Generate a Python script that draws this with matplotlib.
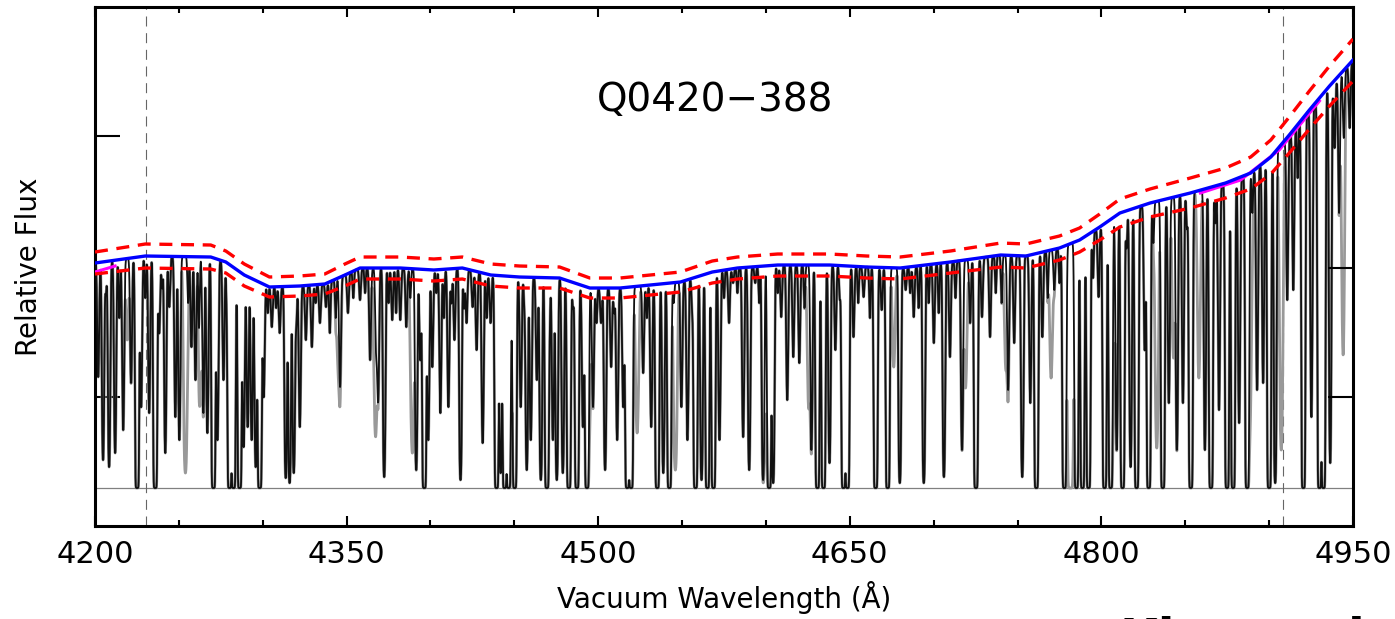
import matplotlib
matplotlib.use("Agg")
import matplotlib.pyplot as plt
import numpy as np

# Fitted continuum (blue) with its +/-5% bounds (red dashed)
CONT_WAVE = [4200, 4230, 4269, 4278, 4289, 4304, 4322, 4337, 4349, 4358,
             4382, 4402, 4419, 4436, 4453, 4477, 4495, 4513, 4531, 4549,
             4568, 4583, 4607, 4638, 4660, 4680, 4710, 4740, 4755, 4775,
             4787, 4799, 4811, 4829, 4853, 4874, 4889, 4901, 4912, 4924,
             4936, 4950]
CONT_FLUX = [2.25, 2.32, 2.31, 2.26, 2.13, 2.01, 2.02, 2.04, 2.13, 2.20,
             2.20, 2.18, 2.20, 2.13, 2.11, 2.10, 2.00, 2.00, 2.03, 2.06,
             2.16, 2.20, 2.23, 2.23, 2.21, 2.20, 2.26, 2.33, 2.32, 2.40,
             2.48, 2.61, 2.75, 2.85, 2.95, 3.05, 3.15, 3.31, 3.53, 3.78,
             4.02, 4.28]
CONT_HI = [2.36, 2.44, 2.43, 2.37, 2.24, 2.11, 2.12, 2.14, 2.24, 2.31,
           2.31, 2.29, 2.31, 2.24, 2.22, 2.21, 2.10, 2.10, 2.13, 2.16,
           2.27, 2.31, 2.34, 2.34, 2.32, 2.31, 2.37, 2.45, 2.44, 2.52,
           2.60, 2.74, 2.89, 2.99, 3.10, 3.20, 3.31, 3.48, 3.71, 3.97,
           4.22, 4.49]
CONT_LO = [2.14, 2.20, 2.19, 2.15, 2.02, 1.91, 1.92, 1.94, 2.02, 2.09,
           2.09, 2.07, 2.09, 2.02, 2.00, 2.00, 1.90, 1.90, 1.93, 1.96,
           2.05, 2.09, 2.12, 2.12, 2.10, 2.09, 2.15, 2.21, 2.20, 2.28,
           2.36, 2.48, 2.61, 2.71, 2.80, 2.90, 2.99, 3.14, 3.35, 3.59,
           3.82, 4.07]

# alternative continuum, only showing where it departs from the blue one
ALT_WAVE_A = [4200, 4206, 4212]
ALT_FLUX_A = [2.16, 2.19, 2.22]
ALT_WAVE_B = [4859, 4883, 4906, 4930]
ALT_FLUX_B = [2.95, 3.08, 3.38, 3.87]

# Lyman-alpha forest absorbers: centre (A) and flux at line bottom
LINE_WAVE = [
    4201.9, 4204.8, 4208.4, 4212.0, 4216.8, 4221.5, 4225.1, 4227.5, 4232.3, 4235.9,
    4238.3, 4241.9, 4244.3, 4247.9, 4250.3, 4257.5, 4259.9, 4264.6, 4267.0, 4270.6,
    4273.0, 4276.6, 4280.2, 4282.6, 4286.2, 4288.6, 4291.0, 4293.4, 4295.8, 4298.2,
    4300.6, 4305.4, 4310.1, 4313.7, 4316.0, 4318.5, 4322.1, 4325.7, 4329.3, 4334.1,
    4337.7, 4346.1, 4350.8, 4358.0, 4364.0, 4367.6, 4368.8, 4372.4, 4377.2, 4382.0,
    4385.6, 4391.5, 4393.9, 4396.3, 4398.7, 4401.1, 4405.9, 4410.7, 4414.3, 4417.9,
    4421.5, 4425.1, 4427.5, 4431.1, 4435.8, 4439.4, 4441.8, 4444.2, 4446.6, 4450.2,
    4453.8, 4457.4, 4459.8, 4463.4, 4465.8, 4469.4, 4473.0, 4475.3, 4478.9, 4482.5,
    4487.3, 4490.9, 4493.3, 4496.9, 4501.7, 4504.1, 4507.7, 4511.3, 4514.9, 4517.3,
    4519.6, 4526.8, 4531.6, 4535.2, 4538.8, 4542.4, 4549.6, 4553.2, 4558.0, 4561.6,
    4565.1, 4568.7, 4572.3, 4578.0, 4580.4, 4586.4, 4590.0, 4593.6, 4598.3, 4601.9,
    4604.3, 4609.1, 4612.7, 4616.3, 4619.9, 4627.1, 4630.7, 4634.3, 4637.9, 4641.4,
    4646.2, 4648.6, 4652.2, 4658.2, 4665.4, 4669.0, 4672.6, 4679.8, 4683.3, 4688.1,
    4694.1, 4700.1, 4706.1, 4709.7, 4716.9, 4721.7, 4725.2, 4728.8, 4733.6, 4744.4,
    4748.0, 4752.8, 4757.6, 4761.2, 4764.8, 4771.9, 4777.9, 4785.1, 4788.7, 4792.3,
    4798.3, 4801.9, 4805.5, 4809.1, 4812.6, 4817.4, 4821.0, 4825.8, 4828.2, 4836.6,
    4840.2, 4845.0, 4848.6, 4853.3, 4861.7, 4865.3, 4870.1, 4874.9, 4878.5, 4882.1,
    4886.9, 4892.8, 4896.4, 4900.0, 4903.6, 4910.8, 4914.4, 4920.4, 4925.2, 4930.0,
    4932.4, 4936.4, 4939.0, 4941.7, 4944.5, 4948.0,
]
LINE_FMIN = [
    1.11, 0.28, 0.21, 0.35, 0.58, 1.05, 0.00, 0.81, 0.75, 0.00,
    1.55, 0.35, 1.81, 0.71, 0.48, 1.41, 1.08, 0.75, 0.55, 0.00,
    0.48, 1.08, 0.00, 0.00, 0.00, 0.41, 0.61, 0.48, 0.21, 0.00,
    0.91, 1.61, 1.55, 0.10, 0.05, 0.15, 0.61, 1.48, 1.41, 1.65,
    1.81, 1.01, 1.75, 1.88, 1.28, 1.38, 0.88, 0.11, 1.68, 1.68,
    1.61, 0.18, 1.28, 0.00, 0.48, 1.21, 0.75, 0.81, 1.48, 0.08,
    1.65, 1.81, 1.38, 0.45, 1.65, 0.00, 0.15, 0.00, 0.00, 0.00,
    0.81, 0.18, 0.48, 1.08, 0.08, 0.00, 0.48, 0.08, 0.15, 0.00,
    0.00, 0.61, 0.00, 0.81, 1.65, 0.18, 1.21, 0.48, 0.81, 0.00,
    0.00, 1.15, 0.61, 0.00, 0.15, 0.00, 0.81, 0.48, 0.00, 0.08,
    0.00, 0.00, 0.48, 1.65, 2.05, 0.51, 0.18, 2.05, 0.08, 0.00,
    0.05, 1.71, 0.88, 1.31, 1.25, 0.38, 0.00, 0.00, 0.25, 1.38,
    0.00, 0.00, 1.51, 1.91, 0.00, 1.78, 0.00, 0.05, 1.98, 1.71,
    0.05, 1.45, 0.11, 1.31, 0.38, 1.65, 0.00, 1.71, 1.51, 0.98,
    1.45, 0.11, 0.85, 0.00, 1.51, 1.98, 0.00, 0.00, 0.00, 0.00,
    1.91, 0.00, 0.00, 0.38, 0.00, 0.21, 0.00, 1.38, 0.00, 0.00,
    0.85, 0.38, 0.85, 0.00, 0.38, 0.00, 0.78, 0.00, 0.00, 0.65,
    0.00, 0.98, 1.05, 0.00, 0.05, 1.88, 1.98, 0.00, 0.71, 0.00,
    0.00, 0.25, 3.40, 2.75, 3.50, 3.60,
]

# weak absorbers crowding the top of the forest
WEAK_WAVE = [4206.5, 4214.5, 4230.0, 4240.0, 4255.5, 4262.0, 4278.5, 4303.0,
             4308.0, 4320.0, 4331.5, 4340.0, 4343.5, 4354.0, 4361.0, 4375.0,
             4379.5, 4388.0, 4403.5, 4408.0, 4412.5, 4420.0, 4433.5, 4448.5,
             4456.0, 4471.0, 4485.0, 4499.0, 4509.5, 4529.0, 4545.0, 4556.0,
             4575.0, 4583.0, 4596.0, 4607.0, 4623.0, 4644.0, 4655.0, 4662.0,
             4686.0, 4691.0, 4697.0, 4703.0, 4713.0, 4737.0, 4740.5, 4768.0,
             4775.0, 4795.0, 4815.0, 4831.0, 4851.0, 4868.0, 4890.0, 4917.0]
WEAK_FMIN = [1.95, 1.70, 1.90, 2.00, 1.85, 1.60, 1.95, 1.75,
             1.80, 1.65, 1.85, 1.55, 1.70, 1.90, 1.95, 1.85,
             1.75, 1.90, 1.95, 1.70, 1.85, 1.80, 1.70, 1.75,
             1.85, 1.70, 1.80, 1.65, 1.75, 1.70, 1.85, 1.80,
             1.90, 1.95, 1.85, 1.95, 1.80, 1.90, 1.85, 1.70,
             1.95, 1.80, 1.85, 1.75, 1.90, 1.95, 1.85, 1.90,
             2.05, 2.10, 2.40, 2.45, 2.60, 2.65, 2.75, 3.10]

# absorbers plotted in the grey spectrum only
GREY_WAVE = [4219.2, 4253.9, 4262.8, 4345.0, 4367.0, 4389.2, 4447.5, 4494.8,
             4523.2, 4546.0, 4599.5, 4625.5, 4676.2, 4719.0, 4743.0, 4770.0,
             4781.5, 4807.0, 4833.0, 4843.0, 4858.1, 4888.5, 4907.2, 4944.0]
GREY_FMIN = [1.48, 0.15, 0.90, 1.20, 0.70, 0.35, 0.40, 0.68,
             0.55, 0.18, 0.50, 0.80, 1.21, 1.00, 1.20, 1.10,
             0.00, 0.90, 0.40, 1.30, 1.10, 0.60, 0.38, 1.50]

EMISSION_WAVE = [4230.4, 4908.3]
QSO_NAME = "Q0420\u2212388"
FOOTER = "Kim et al."

wave = np.arange(4200.0, 4950.0 + 0.025, 0.05)
cont = np.interp(wave, CONT_WAVE, CONT_FLUX)


def optical_depth(centres, fmin, width):
    centres = np.asarray(centres)
    fmin = np.asarray(fmin)
    c0 = np.interp(centres, CONT_WAVE, CONT_FLUX)
    ratio = np.clip(fmin / c0, 1e-6, 1.0)
    tau0 = np.where(fmin > 0, -np.log(ratio), 12.0)
    sig = np.where(fmin > 0, width, width * 1.15)
    tau = np.zeros_like(wave)
    for c, t, s in zip(centres, tau0, sig):
        tau += t * np.exp(-0.5 * ((wave - c) / s) ** 2)
    return tau


tau_black = (optical_depth(LINE_WAVE, LINE_FMIN, 0.5)
             + optical_depth(WEAK_WAVE, WEAK_FMIN, 0.4))
tau_grey = optical_depth(GREY_WAVE, GREY_FMIN, 0.75)
flux_black = cont * np.exp(-tau_black)
flux_grey = cont * np.exp(-(tau_black + tau_grey))

plt.rcParams["font.family"] = "DejaVu Sans"

fig = plt.figure(figsize=(13.95, 6.19), dpi=100)
ax = fig.add_axes([0.0681, 0.1502, 0.9018, 0.8385])

ax.plot(wave, flux_grey, color="#999999", lw=2.0, zorder=2)
ax.plot(wave, flux_black, color="#111111", lw=1.3, zorder=3)
ax.axhline(0.0, color="#808080", lw=0.9, zorder=1)
for w in EMISSION_WAVE:
    ax.axvline(w, color="#666666", lw=0.8, dashes=(9, 6), zorder=1)

ax.plot(ALT_WAVE_A, ALT_FLUX_A, color="#ff00ff", lw=2.2, zorder=4)
ax.plot(ALT_WAVE_B, ALT_FLUX_B, color="#ff00ff", lw=2.2, zorder=4)
ax.plot(CONT_WAVE, CONT_FLUX, color="#0000ff", lw=2.4, zorder=5)
ax.plot(CONT_WAVE, CONT_HI, color="#ff0000", lw=2.4, dashes=(3.9, 2.6), zorder=6)
ax.plot(CONT_WAVE, CONT_LO, color="#ff0000", lw=2.4, dashes=(3.9, 2.6), zorder=6)

ax.set_xlim(4200, 4950)
ax.set_ylim(-0.38, 4.81)
ax.set_xticks(np.arange(4200, 4951, 150))
ax.set_xticks(np.arange(4200, 4951, 50), minor=True)
ax.set_yticks([0.91, 3.52])
ax.set_yticklabels([])
ax.tick_params(axis="x", which="major", direction="in", length=7, width=1.5,
               top=True, labelsize=22, pad=10)
ax.tick_params(axis="x", which="minor", direction="in", length=4, width=1.5, top=True)
ax.tick_params(axis="y", direction="in", length=18, width=1.5)
for s in ax.spines.values():
    s.set_linewidth(2.2)

ax2 = ax.twinx()
ax2.set_ylim(ax.get_ylim())
ax2.set_yticks([0.91, 2.20])
ax2.set_yticklabels([])
ax2.tick_params(axis="y", direction="in", length=18, width=1.5)
for s in ax2.spines.values():
    s.set_visible(False)

ax.set_xlabel("Vacuum Wavelength (\u00c5)", fontsize=20, labelpad=9)
ax.set_ylabel("Relative Flux", fontsize=20, labelpad=34)
ax.text(0.493, 0.821, QSO_NAME, transform=ax.transAxes, fontsize=28,
        ha="center", va="center")

# caption running off the bottom edge of the slide
fig.text(1120 / 1395, -0.056, FOOTER, fontsize=35, fontweight="bold",
         ha="left", va="baseline")

fig.savefig("out.png", dpi=100)
